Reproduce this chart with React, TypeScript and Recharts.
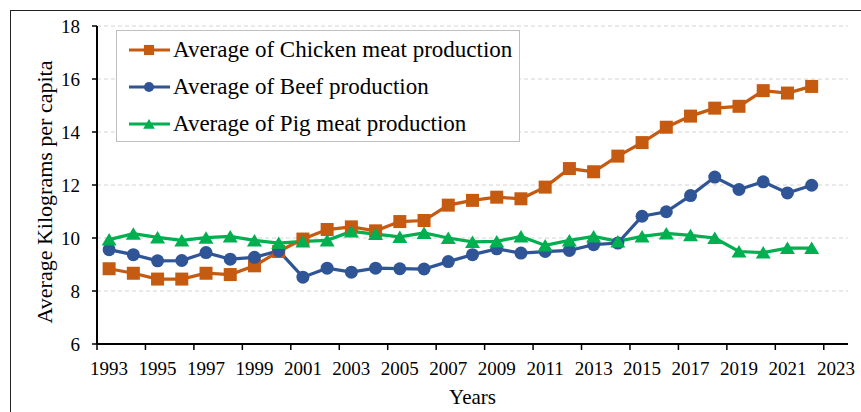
import { ComposedChart, Line, XAxis, YAxis, CartesianGrid, Legend } from "recharts";

const years = [
  "1993", "1994", "1995", "1996", "1997", "1998", "1999", "2000", "2001", "2002",
  "2003", "2004", "2005", "2006", "2007", "2008", "2009", "2010", "2011", "2012",
  "2013", "2014", "2015", "2016", "2017", "2018", "2019", "2020", "2021", "2022", "2023",
];
const chicken = [
  8.84, 8.67, 8.45, 8.45, 8.67, 8.62, 8.95, 9.49,
  9.96, 10.32, 10.42, 10.27, 10.62, 10.66, 11.24, 11.42,
  11.54, 11.48, 11.92, 12.62, 12.5, 13.09, 13.6, 14.18,
  14.6, 14.9, 14.97, 15.56, 15.47, 15.72,
];
const beef = [
  9.56, 9.37, 9.14, 9.15, 9.45, 9.2, 9.27, 9.52,
  8.52, 8.86, 8.71, 8.86, 8.84, 8.83, 9.11, 9.37,
  9.59, 9.43, 9.49, 9.53, 9.75, 9.81, 10.82, 10.99,
  11.6, 12.3, 11.83, 12.12, 11.7, 11.99,
];
const pig = [
  9.94, 10.16, 10.02, 9.91, 10.01, 10.06, 9.91, 9.81,
  9.87, 9.91, 10.25, 10.15, 10.04, 10.19, 10.0, 9.85,
  9.87, 10.06, 9.72, 9.91, 10.06, 9.87, 10.06, 10.17,
  10.1, 10.0, 9.49, 9.45, 9.62, 9.62,
];
const yTicks = [6, 8, 10, 12, 14, 16, 18];

const data = years.map((year, i) => ({
  year,
  chicken: chicken[i] ?? null,
  beef: beef[i] ?? null,
  pig: pig[i] ?? null,
}));

const FONT = '"Liberation Serif", "Times New Roman", serif';
const ORANGE = "#C55A11";
const BLUE = "#2F5597";
const GREEN = "#00B050";

const W = 861;
const H = 412;
const MARGIN = { top: 26, right: 13, bottom: 0, left: 37 };
const Y_AXIS_W = 60;
const PLOT_W = W - MARGIN.left - MARGIN.right - Y_AXIS_W;
const BAND = PLOT_W / years.length;

type Shape = "square" | "circle" | "triangle";

function Marker({ cx, cy, shape, color, s = 1 }: { cx: number; cy: number; shape: Shape; color: string; s?: number }) {
  if (shape === "square") {
    const h = 6.5 * s;
    return <rect x={cx - h} y={cy - h} width={2 * h} height={2 * h} fill={color} />;
  }
  if (shape === "circle") {
    return <circle cx={cx} cy={cy} r={6.5 * s} fill={color} />;
  }
  return (
    <polygon
      points={`${cx},${cy - 6.5 * s} ${cx + 7.5 * s},${cy + 6 * s} ${cx - 7.5 * s},${cy + 6 * s}`}
      fill={color}
    />
  );
}

const makeDot = (shape: Shape, color: string) => (props: any) => {
  const { cx, cy, index } = props;
  if (cx == null || cy == null || props.value == null) return <g key={`d-${shape}-${index}`} />;
  return (
    <g key={`d-${shape}-${index}`}>
      <Marker cx={cx} cy={cy} shape={shape} color={color} />
    </g>
  );
};

const series = [
  { key: "chicken", name: "Average of Chicken meat production", color: ORANGE, shape: "square" as Shape },
  { key: "beef", name: "Average of Beef production", color: BLUE, shape: "circle" as Shape },
  { key: "pig", name: "Average of Pig meat production", color: GREEN, shape: "triangle" as Shape },
];

function YearTick(props: any) {
  const { x, y, payload } = props;
  const edge = x - BAND / 2;
  return (
    <g>
      <line x1={edge} x2={edge} y1={y} y2={y + 6} stroke="#000" strokeWidth={1.5} />
      <text x={x} y={y + 31} textAnchor="middle" fill="#000" fontSize={19} fontFamily={FONT}>
        {payload.value}
      </text>
    </g>
  );
}

function YTitle(props: any) {
  const vb = props.viewBox;
  const x = vb.x + 7;
  const y = vb.y + vb.height / 2 + 7;
  return (
    <text
      x={x}
      y={y}
      transform={`rotate(-90, ${x}, ${y})`}
      textAnchor="middle"
      dominantBaseline="central"
      fill="#000"
      fontSize={22}
      fontFamily={FONT}
    >
      Average Kilograms per capita
    </text>
  );
}

function LegendBox() {
  return (
    <div
      style={{
        width: 402,
        height: 110,
        border: "1px solid #bfbfbf",
        background: "#fff",
        fontFamily: FONT,
        fontSize: 23,
        color: "#000",
      }}
    >
      {series.map((s) => (
        <div key={s.key} style={{ height: 37, display: "flex", alignItems: "center" }}>
          <svg width={56} height={20} style={{ flex: "none" }}>
            <line x1={12} x2={53} y1={10} y2={10} stroke={s.color} strokeWidth={3} />
            <Marker cx={32} cy={10} shape={s.shape} color={s.color} s={0.78} />
          </svg>
          <span style={{ whiteSpace: "nowrap" }}>{s.name}</span>
        </div>
      ))}
    </div>
  );
}

export default function App() {
  return (
    <div
      style={{
        position: "absolute",
        left: 0,
        top: 0,
        width: W,
        height: H,
        overflow: "hidden",
        background: "#fff",
      }}
    >
      <div
        style={{
          position: "absolute",
          left: 10,
          top: 10,
          width: 900,
          height: 500,
          border: "1.5px solid #222",
        }}
      />
      <div style={{ position: "absolute", left: 0, top: 0 }}>
        <ComposedChart width={W} height={H} data={data} margin={MARGIN}>
          <CartesianGrid vertical={false} stroke="#d4d4d4" strokeDasharray="4 3" />
          <XAxis
            dataKey="year"
            scale="band"
            interval={1}
            height={68}
            tickSize={0}
            tickMargin={0}
            tickLine={false}
            axisLine={{ stroke: "#000", strokeWidth: 2 }}
            tick={<YearTick />}
            label={{
              value: "Years",
              position: "insideBottom",
              offset: 8,
              fill: "#000",
              fontSize: 21,
              fontFamily: FONT,
            }}
          />
          <YAxis
            width={Y_AXIS_W}
            domain={[6, 18]}
            ticks={yTicks}
            interval={0}
            tickSize={5}
            tickMargin={12}
            axisLine={{ stroke: "#000", strokeWidth: 2 }}
            tickLine={{ stroke: "#000", strokeWidth: 1.5 }}
            tick={{ fill: "#000", fontSize: 19, fontFamily: FONT }}
            label={<YTitle />}
          />
          <Legend
            layout="vertical"
            align="center"
            verticalAlign="middle"
            content={<LegendBox />}
            wrapperStyle={{ left: 116, top: 30, width: 404 }}
          />
          {series.map((s) => (
            <Line
              key={s.key}
              type="linear"
              dataKey={s.key}
              name={s.name}
              stroke={s.color}
              strokeWidth={3.25}
              dot={makeDot(s.shape, s.color)}
              activeDot={false}
              isAnimationActive={false}
            />
          ))}
        </ComposedChart>
      </div>
    </div>
  );
}
